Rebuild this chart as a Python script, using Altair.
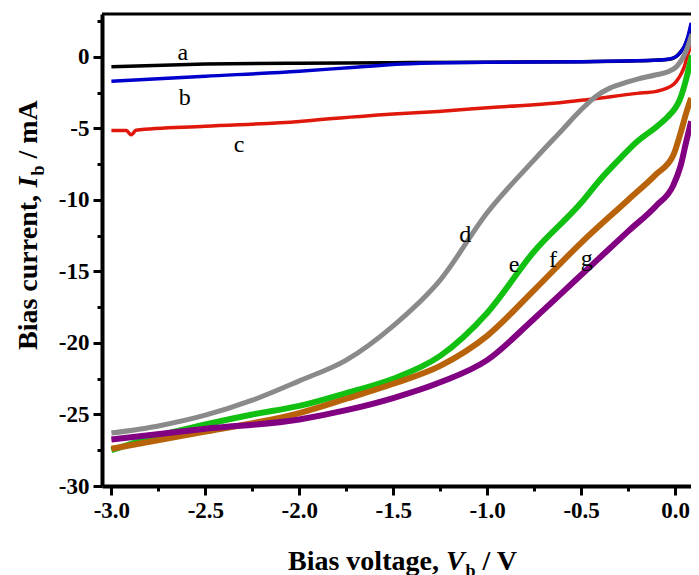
import altair as alt
import pandas as pd

# ---------------- data ----------------
a_v = [-3.0, -2.5, -2.0, -1.5, -1.0, -0.5, -0.2, -0.03, 0.0, 0.03, 0.05, 0.069, 0.084]
a_i = [-0.68, -0.50, -0.44, -0.40, -0.37, -0.33, -0.27, -0.16, -0.02, 0.35, 0.75, 1.35, 2.1]

b_v = [-3.0, -2.5, -2.0, -1.7, -1.45, -1.2, -1.0, -0.5, -0.12, -0.03, 0.01, 0.033, 0.05, 0.069, 0.086]
b_i = [-1.70, -1.35, -1.00, -0.72, -0.50, -0.41, -0.38, -0.33, -0.24, -0.14, 0.05, 0.39, 0.75, 1.44, 2.38]

c_v = [-3.0, -2.92, -2.895, -2.885, -2.87, -2.5, -2.0, -1.9, -1.5, -1.26, -0.94, -0.63, -0.47, -0.2, -0.10, -0.01, 0.007, 0.03, 0.05, 0.06, 0.086, 0.095]
c_i = [-5.14, -5.15, -5.45, -5.35, -5.12, -4.85, -4.51, -4.40, -4.00, -3.81, -3.50, -3.22, -2.99, -2.55, -2.41, -1.94, -1.71, -1.25, -0.66, -0.19, 0.98, 1.6]

d_v = [-3.0, -2.75, -2.5, -2.25, -2.0, -1.75, -1.5, -1.25, -1.0, -0.75, -0.6, -0.5, -0.42, -0.35, -0.3, -0.2, -0.1, -0.03, 0.01, 0.04, 0.065, 0.09]
d_i = [-26.3, -25.8, -25.05, -24.0, -22.65, -21.2, -18.8, -15.6, -10.9, -7.2, -5.1, -3.7, -2.75, -2.2, -1.95, -1.55, -1.25, -1.0, -0.65, -0.1, 0.6, 1.6]

e_v = [-3.0, -2.75, -2.5, -2.25, -2.0, -1.75, -1.5, -1.25, -1.0, -0.75, -0.5, -0.4, -0.3, -0.2, -0.1, -0.04, 0.0, 0.025, 0.05, 0.07, 0.09]
e_i = [-27.5, -26.5, -25.7, -25.0, -24.4, -23.5, -22.5, -20.9, -17.9, -13.6, -10.2, -8.6, -7.2, -5.9, -4.9, -4.2, -3.6, -3.0, -2.0, -1.0, 0.1]

f_v = [-3.0, -2.5, -2.0, -1.75, -1.5, -1.25, -1.0, -0.75, -0.5, -0.25, -0.1, -0.01, 0.03, 0.06, 0.086]
f_i = [-27.4, -26.2, -24.9, -23.9, -22.85, -21.6, -19.5, -16.3, -13.0, -10.0, -8.2, -6.9, -5.3, -3.9, -2.87]

g_v = [-3.0, -2.5, -2.0, -1.75, -1.5, -1.25, -1.0, -0.75, -0.5, -0.25, -0.1, -0.01, 0.03, 0.06, 0.086]
g_i = [-26.75, -26.0, -25.35, -24.7, -23.85, -22.75, -21.2, -18.3, -15.25, -12.2, -10.4, -9.0, -7.6, -5.9, -4.5]

label_text = ["a", "b", "c", "d", "e", "f", "g"]
label_v = [-2.62, -2.61, -2.32, -1.117, -0.857, -0.65, -0.47]
label_i = [0.27, -2.87, -6.16, -12.45, -14.55, -14.2, -14.13]

x_ticks = [-3.0, -2.75, -2.5, -2.25, -2.0, -1.75, -1.5, -1.25, -1.0, -0.75, -0.5, -0.25, 0.0]
y_ticks = [2.5, 0, -2.5, -5, -7.5, -10, -12.5, -15, -17.5, -20, -22.5, -25, -27.5, -30]

# ---------------- layout / style ----------------
W, H = 589, 472
PAD_L, PAD_T = 94, 6
TOTAL_H = 567
SERIF = "Liberation Serif"

xscale = alt.Scale(domain=[-3.05, 0.085], nice=False, zero=False)
yscale = alt.Scale(domain=[-30, 3], nice=False, zero=False)

x_major = "abs(datum.value*2 - round(datum.value*2)) < 0.001"
y_major = "datum.value % 5 == 0"

xaxis = alt.Axis(
    values=x_ticks,
    labelExpr=f"{x_major} ? replace(format(datum.value, '.1f'), '\u2212', '-') : ''",
    tickSize={"condition": {"test": x_major, "value": 9}, "value": 5},
    tickWidth=3, tickColor="black", domainWidth=4, domainColor="black",
    labelFont=SERIF, labelFontWeight="bold", labelFontSize=23, labelColor="black",
    labelPadding=4, labelOverlap=False, labelFlush=False, grid=False, title=None,
)
yaxis = alt.Axis(
    values=y_ticks,
    labelExpr=f"{y_major} ? replace(format(datum.value, 'd'), '\u2212', '-') : ''",
    tickSize={"condition": {"test": y_major, "value": 9}, "value": 5},
    tickWidth=3, tickColor="black", domainWidth=4, domainColor="black",
    labelFont=SERIF, labelFontWeight="bold", labelFontSize=23, labelColor="black",
    labelPadding=4, labelOverlap=False, labelFlush=False, grid=False, title=None,
)

series = [
    ("a", a_v, a_i, "#000000", 3.5),
    ("b", b_v, b_i, "#0000CC", 3.5),
    ("c", c_v, c_i, "#E0180C", 3.5),
    ("d", d_v, d_i, "#8A8A8A", 5),
    ("e", e_v, e_i, "#11C011", 6),
    ("f", f_v, f_i, "#B8620A", 6),
    ("g", g_v, g_i, "#820082", 6),
]

layers = []
for name, vs, cs, color, sw in series:
    df = pd.DataFrame({"V": vs, "I": cs})
    layers.append(
        alt.Chart(df).mark_line(color=color, strokeWidth=sw, interpolate="monotone", clip=True).encode(
            x=alt.X("V:Q", scale=xscale, axis=xaxis),
            y=alt.Y("I:Q", scale=yscale, axis=yaxis),
        )
    )

lab_df = pd.DataFrame({"V": label_v, "I": label_i, "t": label_text})
layers.append(
    alt.Chart(lab_df).mark_text(font=SERIF, fontSize=24, color="black", align="center", baseline="middle").encode(
        x=alt.X("V:Q", scale=xscale, axis=xaxis),
        y=alt.Y("I:Q", scale=yscale, axis=yaxis),
        text="t:N",
    )
)

# top frame line
layers.append(
    alt.Chart(pd.DataFrame({"z": [0]})).mark_rule(color="black", strokeWidth=3).encode(
        x=alt.value(0), x2=alt.value(W), y=alt.value(0)
    )
)


def piece(text, x, y, size=28, style="normal", angle=0):
    return alt.Chart(pd.DataFrame({"t": [text]})).mark_text(
        font=SERIF, fontSize=size, fontWeight="bold", fontStyle=style, color="black",
        align="left", baseline="alphabetic", angle=angle,
    ).encode(x=alt.value(x), y=alt.value(y), text="t:N")


FS = 28
SUB = 18
SP = 0.25 * FS

# x-axis title: "Bias voltage, V_b / V"
xt0 = 186
xb = 556
w1 = 5.639 * FS
w2 = 0.667 * FS + 1
w3 = 0.556 * SUB
layers += [
    piece("Bias voltage,", xt0, xb),
    piece("V", xt0 + w1, xb, style="italic"),
    piece("b", xt0 + w1 + w2, xb + 7, size=SUB),
    piece("/ V", xt0 + w1 + w2 + w3 + SP, xb),
]

# y-axis title (rotated): "Bias current, I_b / mA"
yx = -65
yt0 = 336
v1 = 5.805 * FS
v2 = 0.389 * FS + 1
layers += [
    piece("Bias current,", yx, yt0, angle=270),
    piece("I", yx, yt0 - v1, style="italic", angle=270),
    piece("b", yx + 7, yt0 - v1 - v2, size=SUB, angle=270),
    piece("/ mA", yx, yt0 - v1 - v2 - w3 - SP, angle=270),
]

chart = alt.layer(*layers).properties(
    width=W, height=H,
    autosize=alt.AutoSizeParams(type="none"),
    padding={"left": PAD_L, "top": PAD_T, "right": 0, "bottom": TOTAL_H - PAD_T - H},
).configure_view(stroke=None).configure(background="white")

chart.save("out.html", embed_options={"renderer": "svg", "actions": False})
